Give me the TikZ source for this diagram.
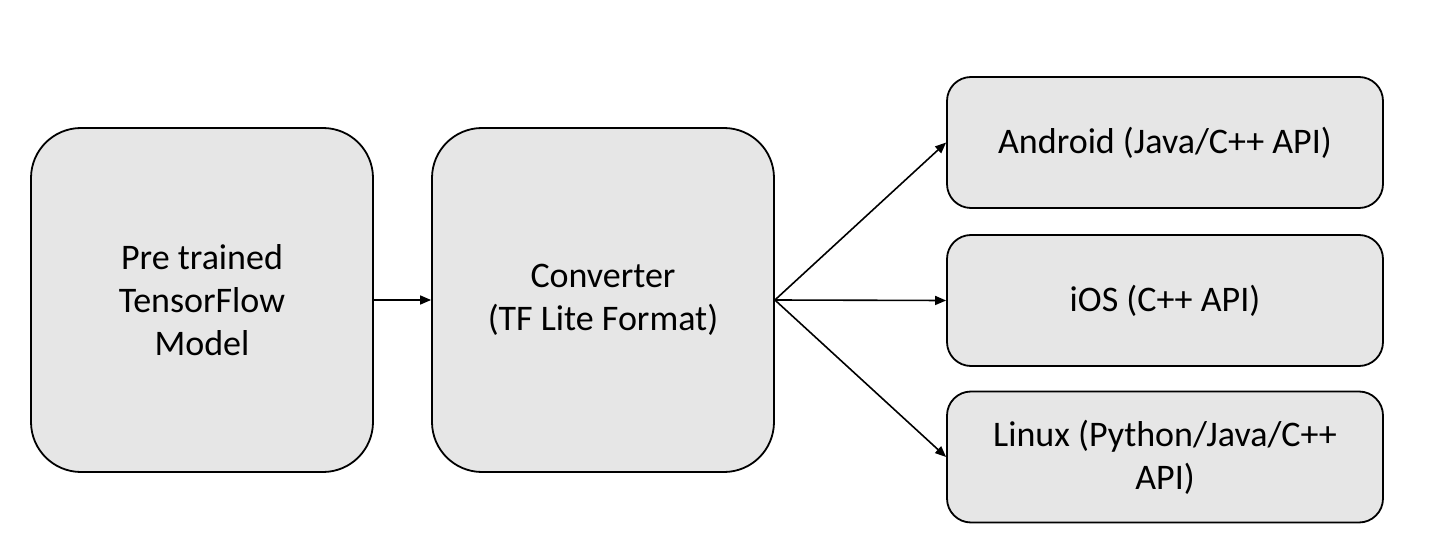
\documentclass[tikz,border=0pt]{standalone}
\usepackage{fontspec}
\setmainfont{Carlito}
\usetikzlibrary{arrows.meta}
\begin{document}
\begin{tikzpicture}[x=1pt,y=-1pt,
  bigbox/.style={draw=black,line width=1.8pt,fill=boxgray,rounded corners=50pt,
     minimum width=342pt,minimum height=344pt,inner sep=0pt,align=center,
     font=\fontsize{36}{43}\selectfont},
  smallbox/.style={draw=black,line width=1.8pt,fill=boxgray,rounded corners=24pt,
     minimum width=436pt,minimum height=131pt,inner sep=0pt,align=center,
     font=\fontsize{36}{43}\selectfont},
  conn/.style={line width=1.6pt,-{Triangle[length=11pt,width=9pt]}}]
\definecolor{boxgray}{HTML}{E6E6E6}
\useasboundingbox (0,0) rectangle (1430,556);
\node[bigbox] (pre) at (202,300) {Pre trained\\TensorFlow\\Model};
\node[bigbox] (conv) at (603,300) {Converter\\(TF Lite Format)};
\node[smallbox] (and) at (1165,142.5) {Android (Java/C++ API)};
\node[smallbox] (ios) at (1165,300.5) {iOS (C++ API)};
\node[smallbox] (lin) at (1165,457) {Linux (Python/Java/C++\\API)};
\draw[conn] (pre.east) -- (conv.west);
\draw[conn] (conv.east) -- (and.west);
\draw[conn] (conv.east) -- (ios.west);
\draw[conn] (conv.east) -- (lin.west);
\end{tikzpicture}
\end{document}
